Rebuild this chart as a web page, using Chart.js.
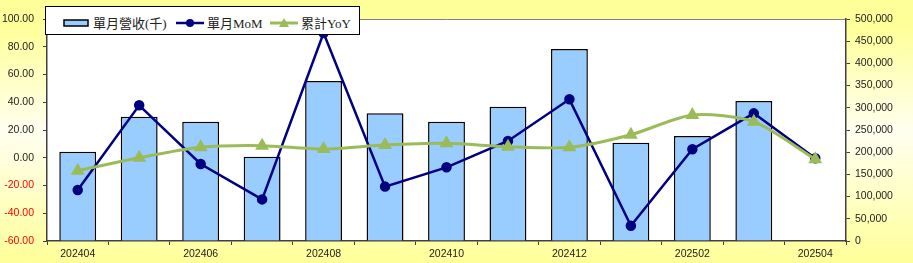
<!DOCTYPE html>
<html>
<head>
<meta charset="utf-8">
<script src="https://cdn.jsdelivr.net/npm/chart.js@4/dist/chart.umd.min.js"></script>
<style>
  html, body { margin: 0; padding: 0; }
  #wrap { position: relative; width: 913px; height: 263px; }
  #legend {
    position: absolute; left: 45px; top: 6px; width: 315px; height: 29px;
    background: #fff; border: 1px solid #000; box-sizing: border-box; white-space: nowrap;
    font-family: "Liberation Serif", "Noto Sans CJK TC", serif; font-size: 13px; color: #222;
  }
  #legend span.item { position: absolute; top: 6px; display: flex; align-items: center; }
  #legend canvas { margin-right: 3px; }
</style>
</head>
<body>
<div id="wrap">
  <canvas id="c" width="913" height="263"></canvas>
  <div id="legend"></div>
</div>
<script>
// 202404 ~ 202504
const months = ['202404','202405','202406','202407','202408','202409','202410','202411','202412','202501','202502','202503','202504'];
const revenue = [201000, 280000, 268700, 190000, 360400, 287600, 268700, 302500, 432400, 221400, 236500, 315300, null]; // 千
const mom = [-23.2, 37.8, -4.5, -30.0, 89.9, -20.8, -6.9, 12.1, 42.1, -49.0, 6.1, 32.0, -0.4];
const yoy = [-9.3, 0.0, 7.5, 8.7, 6.3, 9.2, 10.4, 8.0, 7.5, 16.6, 30.8, 26.0, -1.1];
const leftTicks = [100, 80, 60, 40, 20, 0, -20, -40, -60];

const bg = {
  id: 'bg',
  beforeDraw(chart) {
    const { ctx, width, height, chartArea: a } = chart;
    const g = ctx.createLinearGradient(0, 0, 0, height);
    g.addColorStop(0, '#ffff99');
    g.addColorStop(0.1, '#ffff99');
    g.addColorStop(0.5, '#fffff0');
    g.addColorStop(1, '#ffff99');
    ctx.save();
    ctx.fillStyle = g;
    ctx.fillRect(0, 0, width, height);
    ctx.fillStyle = '#fff';
    ctx.fillRect(a.left, a.top, a.right - a.left, a.bottom - a.top);
    ctx.strokeStyle = '#808080';
    ctx.lineWidth = 1;
    ctx.beginPath();
    ctx.moveTo(a.left, a.top + 0.5);
    ctx.lineTo(a.right, a.top + 0.5);
    ctx.stroke();
    ctx.restore();
  }
};

const font = { family: '"Liberation Sans", Arial, sans-serif', size: 10.5 };

const chart = new Chart(document.getElementById('c').getContext('2d'), {
  data: {
    labels: months,
    datasets: [
      {
        type: 'line', label: '單月MoM', data: mom, yAxisID: 'y',
        borderColor: '#000080', backgroundColor: '#000080', borderWidth: 2.5,
        pointRadius: 4, pointStyle: 'circle', tension: 0, order: 1
      },
      {
        type: 'line', label: '累計YoY', data: yoy, yAxisID: 'y',
        borderColor: '#9bbb59', backgroundColor: '#9bbb59', borderWidth: 3,
        pointRadius: 5, pointStyle: 'triangle', tension: 0.25, order: 0
      },
      {
        type: 'bar', label: '單月營收(千)', data: revenue, yAxisID: 'y1',
        backgroundColor: '#99ccff', borderColor: '#000', borderWidth: 1.5,
        barPercentage: 0.6, categoryPercentage: 1, order: 2
      }
    ]
  },
  options: {
    responsive: false,
    animation: false,
    layout: { padding: { top: 19, left: 0, right: 0, bottom: 0 } },
    plugins: { legend: { display: false }, tooltip: { enabled: false } },
    scales: {
      x: {
        offset: true,
        grid: { display: true, drawOnChartArea: false, tickLength: 4, color: '#404040', offset: true },
        border: { color: '#404040', width: 1.5 },
        ticks: {
          autoSkip: false, maxRotation: 0, padding: 3, color: '#222', font,
          callback: (v, i) => (i % 2 === 0 ? months[i] : '')
        },
        afterFit: (s) => { s.height = 22; }
      },
      y: {
        position: 'left', min: -60, max: 100,
        afterBuildTicks: (s) => { s.ticks = leftTicks.map(v => ({ value: v })); },
        grid: { drawOnChartArea: false, tickLength: 4, color: '#404040' },
        border: { color: '#404040', width: 1.5 },
        ticks: {
          padding: 9, font,
          color: (c) => (c.tick.value < 0 ? '#ff0000' : '#222'),
          callback: (v) => Number(v).toFixed(2)
        },
        afterFit: (s) => { s.width = 47; }
      },
      y1: {
        position: 'right', min: 0, max: 500000,
        ticks: {
          stepSize: 50000, padding: 5, color: '#222', font,
          callback: (v) => Number(v).toLocaleString('en-US')
        },
        grid: { drawOnChartArea: false, tickLength: 4, color: '#404040' },
        border: { color: '#404040', width: 1.5 },
        afterFit: (s) => { s.width = 67; }
      }
    }
  },
  plugins: [bg]
});

// legend built from datasets
const legend = document.getElementById('legend');
const order = [2, 0, 1];
const itemLeft = [16, 130, 224];
order.forEach((i, k) => {
  const ds = chart.data.datasets[i];
  const item = document.createElement('span');
  item.className = 'item';
  item.style.left = itemLeft[k] + 'px';
  const sw = document.createElement('canvas');
  sw.width = 28; sw.height = 14;
  const g = sw.getContext('2d');
  if (ds.type === 'bar') {
    g.fillStyle = ds.backgroundColor; g.strokeStyle = '#000'; g.lineWidth = 1.5;
    g.fillRect(2, 4, 24, 6); g.strokeRect(2, 4, 24, 6);
  } else {
    g.strokeStyle = ds.borderColor; g.lineWidth = ds.borderWidth;
    g.beginPath(); g.moveTo(0, 7); g.lineTo(28, 7); g.stroke();
    g.fillStyle = ds.backgroundColor; g.beginPath();
    if (ds.pointStyle === 'triangle') { g.moveTo(14, 2); g.lineTo(19, 11); g.lineTo(9, 11); g.closePath(); }
    else { g.arc(14, 7, 4, 0, Math.PI * 2); }
    g.fill();
  }
  item.appendChild(sw);
  item.appendChild(document.createTextNode(ds.label));
  legend.appendChild(item);
});
</script>
</body>
</html>
